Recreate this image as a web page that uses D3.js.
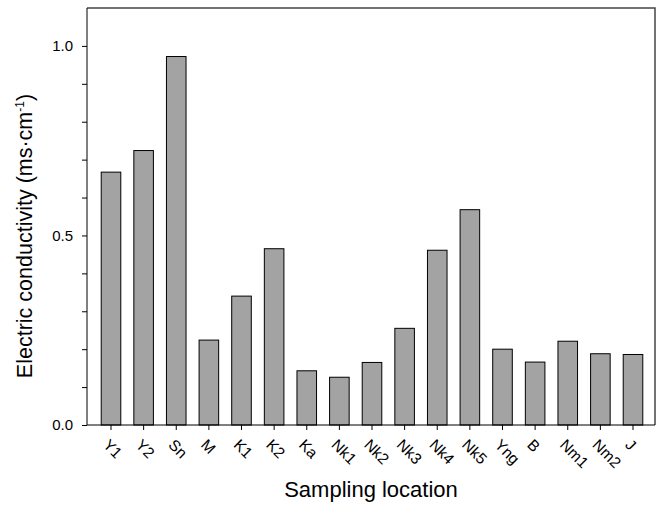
<!DOCTYPE html>
<html><head><meta charset="utf-8">
<script src="https://cdn.jsdelivr.net/npm/d3@7"></script>
<style>body{margin:0;background:#fff}svg{display:block;font-family:"Liberation Sans",Arial,sans-serif}</style>
</head><body><svg id="c" width="663" height="507"></svg>
<script>
const categories = ["Y1","Y2","Sn","M","K1","K2","Ka","Nk1","Nk2","Nk3","Nk4","Nk5","Yng","B","Nm1","Nm2","J"];
const values = [0.667,0.724,0.972,0.224,0.340,0.465,0.143,0.126,0.165,0.255,0.461,0.568,0.200,0.166,0.221,0.188,0.186];
const yTickLabels = [0, 0.5, 1.0];
const yMinorTicks = [0,0.1,0.2,0.3,0.4,0.5,0.6,0.7,0.8,0.9,1.0];

const svg = d3.select("#c");
const L=87,R=655,T=8,B=425;
const x = d3.scaleBand().domain(categories).range([L+1,R+1]).paddingInner(0.4).paddingOuter(0.405);
const y = d3.scaleLinear().domain([0,1.1]).range([B,T]);

svg.append("g").selectAll("rect").data(values).join("rect")
  .attr("x",(d,i)=>x(categories[i])).attr("width",x.bandwidth())
  .attr("y",d=>y(d)).attr("height",d=>B-y(d))
  .attr("fill","#a3a3a3").attr("stroke","#000").attr("stroke-width",1);

// frame top/right
svg.append("path").attr("d",`M${L},${T}H${R}V${B}`).attr("fill","none").attr("stroke","#444").attr("stroke-width",1.5);

const ya = svg.append("g").attr("transform",`translate(${L},0)`)
  .call(d3.axisLeft(y).tickValues(yMinorTicks).tickSize(5).tickPadding(9)
    .tickFormat(d=>yTickLabels.some(v=>Math.abs(v-d)<1e-9)?d3.format(".1f")(d):""));
ya.selectAll("text").attr("font-size",15).attr("fill","#000").attr("font-family","Liberation Sans, Arial, sans-serif");
ya.selectAll("line").attr("stroke","#000");
ya.select(".domain").attr("stroke","#000").attr("d",`M0,${T}V${B}`);

const xa = svg.append("g").attr("transform",`translate(0,${B})`)
  .call(d3.axisBottom(x).tickSize(5).tickSizeOuter(0));
xa.select(".domain").attr("stroke","#000").attr("d",`M${L},0H${R}`);
xa.selectAll("line").attr("stroke","#000");
xa.selectAll("text").attr("font-size",15.5).attr("fill","#000").attr("font-family","Liberation Sans, Arial, sans-serif")
  .attr("text-anchor","start").attr("dy","0.35em").attr("transform","translate(-5,17) rotate(45)").attr("y",0).attr("x",0);

svg.append("text").attr("x",(L+R)/2).attr("y",497).attr("text-anchor","middle")
  .attr("font-size",22).text("Sampling location");

const yt = svg.append("text").attr("transform","translate(32,236) rotate(-90)").attr("text-anchor","middle").attr("font-size",21.5);
yt.append("tspan").text("Electric conductivity (ms·cm");
yt.append("tspan").attr("font-size",12).attr("dy",-8).text("-1");
yt.append("tspan").attr("dy",8).text(")");
</script></body></html>
